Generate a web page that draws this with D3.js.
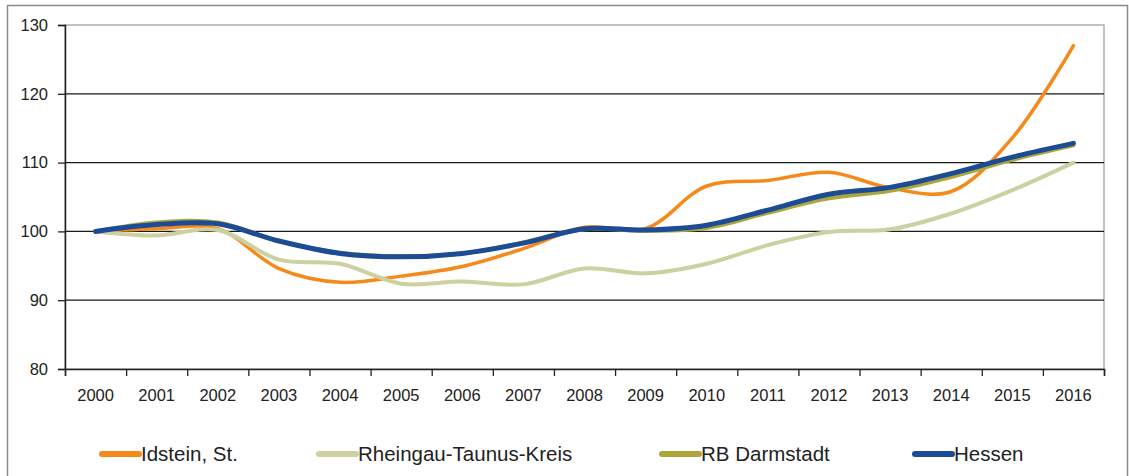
<!DOCTYPE html>
<html>
<head>
<meta charset="utf-8">
<script src="https://cdn.jsdelivr.net/npm/d3@7"></script>
<style>
  body { margin: 0; background: #fff; }
  svg text { font-family: Arial, "Liberation Sans", sans-serif; fill: #222; }
</style>
</head>
<body>
<script>
// values (index, 2000 = 100)
var years = ['2000','2001','2002','2003','2004','2005','2006','2007','2008','2009','2010','2011','2012','2013','2014','2015','2016'];
var idstein   = [100, 100.4, 100.4, 94.6, 92.6, 93.5, 94.9, 97.5, 100.6, 100.4, 106.6, 107.4, 108.6, 106.3, 105.8, 113.6, 127];
var rheingau  = [100, 99.4, 100.2, 95.9, 95.3, 92.4, 92.7, 92.3, 94.6, 93.9, 95.3, 98, 99.9, 100.3, 102.6, 106, 110];
var darmstadt = [100, 101.3, 101.3, 98.6, 96.9, 96.4, 96.8, 98.4, 100.3, 100.1, 100.5, 102.7, 104.8, 105.9, 107.9, 110.4, 112.5];
var hessen    = [100, 101, 101.1, 98.6, 96.8, 96.3, 96.8, 98.3, 100.4, 100.2, 100.9, 103.1, 105.4, 106.4, 108.4, 110.8, 112.8];
var yTicks = [80, 90, 100, 110, 120, 130];

var seriesNames = ['Idstein, St.', 'Rheingau-Taunus-Kreis', 'RB Darmstadt', 'Hessen'];
var seriesColors = ['#F5891A', '#CDD0A0', '#ADA63A', '#1D4C97'];
var seriesWidths = [3.5, 4, 4, 5];
var seriesData = [idstein, rheingau, darmstadt, hessen];

const w = 1129;
const h = 476;
const pLeft = 65, pRight = 1104, pTop = 25, pBottom = 369;

var svg = d3.select('body').append('svg')
  .attr('width', w)
  .attr('height', h);

// outer frame
svg.append('rect')
  .attr('x', 7.5).attr('y', 5.5)
  .attr('width', 1120).attr('height', 480)
  .attr('fill', 'none')
  .attr('stroke', '#8a8a8a')
  .attr('stroke-width', 1.5);

var xScale = d3.scaleBand()
  .domain(years)
  .range([pLeft, pRight])
  .padding(0);

var yScale = d3.scaleLinear()
  .domain([80, 130])
  .range([pBottom, pTop]);

// plot border (grey top/right)
svg.append('rect')
  .attr('x', pLeft).attr('y', pTop)
  .attr('width', pRight - pLeft).attr('height', pBottom - pTop)
  .attr('fill', 'none')
  .attr('stroke', '#9a9a9a')
  .attr('stroke-width', 1.2);

// gridlines
svg.append('g')
  .selectAll('line')
  .data(yTicks.filter(d => d > 80 && d < 130))
  .enter()
  .append('line')
  .attr('x1', pLeft).attr('x2', pRight)
  .attr('y1', d => yScale(d)).attr('y2', d => yScale(d))
  .attr('stroke', '#1a1a1a')
  .attr('stroke-width', 1.3);

// y axis
var yAxis = d3.axisLeft(yScale).tickValues(yTicks).tickSize(7).tickPadding(10);
var gy = svg.append('g')
  .attr('transform', 'translate(' + pLeft + ',0)')
  .call(yAxis);
gy.select('.domain').attr('stroke', '#222').attr('stroke-width', 1.5);
gy.selectAll('.tick line').attr('stroke', '#222').attr('stroke-width', 1.3);
gy.selectAll('.tick text').attr('font-size', '16.5px').attr('fill', '#222');

// x axis: ticks at category boundaries, labels at category centers
var edgeScale = d3.scaleLinear().domain([0, years.length]).range([pLeft, pRight]);
var gxTicks = svg.append('g')
  .attr('transform', 'translate(0,' + pBottom + ')')
  .call(d3.axisBottom(edgeScale).tickValues(d3.range(years.length + 1)).tickSize(7).tickFormat(''));
gxTicks.select('.domain').attr('stroke', '#222').attr('stroke-width', 1.5);
gxTicks.selectAll('.tick line').attr('stroke', '#222').attr('stroke-width', 1.3);

var gxLabels = svg.append('g')
  .attr('transform', 'translate(0,' + pBottom + ')')
  .call(d3.axisBottom(xScale).tickSize(0).tickPadding(20));
gxLabels.select('.domain').remove();
gxLabels.selectAll('.tick text').attr('font-size', '16.5px').attr('fill', '#222');

// lines
var line = d3.line()
  .x((d, i) => xScale(years[i]) + xScale.bandwidth() / 2)
  .y(d => yScale(d))
  .curve(d3.curveCatmullRom.alpha(0.5));

svg.append('g')
  .selectAll('path')
  .data(seriesData)
  .enter()
  .append('path')
  .attr('d', d => line(d))
  .attr('fill', 'none')
  .attr('stroke', (d, i) => seriesColors[i])
  .attr('stroke-width', (d, i) => seriesWidths[i])
  .attr('stroke-linecap', 'round')
  .attr('stroke-linejoin', 'round');

// legend
var legendX = [102, 319, 662, 915];
var legend = svg.append('g')
  .selectAll('g')
  .data(seriesNames)
  .enter()
  .append('g')
  .attr('transform', (d, i) => 'translate(' + legendX[i] + ',454)');

legend.append('line')
  .attr('x1', 0).attr('x2', 37)
  .attr('y1', 0).attr('y2', 0)
  .attr('stroke', (d, i) => seriesColors[i])
  .attr('stroke-width', 6)
  .attr('stroke-linecap', 'round');

legend.append('text')
  .attr('x', 39)
  .attr('y', 0)
  .attr('dy', '0.36em')
  .attr('font-size', '20.5px')
  .text(d => d);
</script>
</body>
</html>
